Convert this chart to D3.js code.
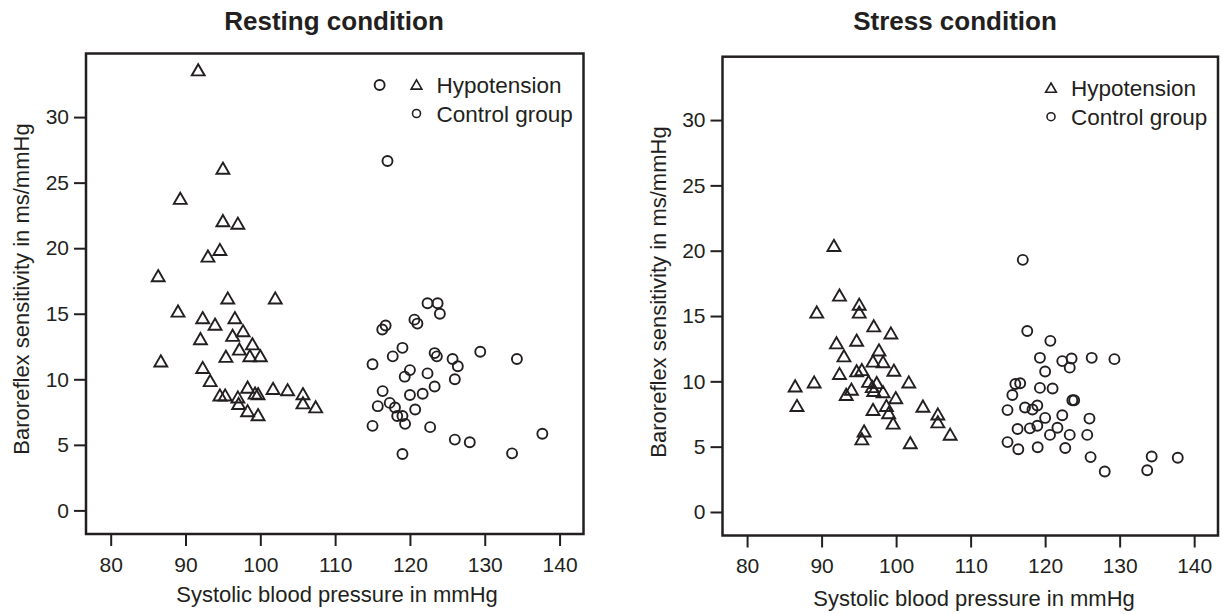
<!doctype html>
<html>
<head>
<meta charset="utf-8">
<script src="https://cdnjs.cloudflare.com/ajax/libs/d3/7.8.5/d3.min.js"></script>
<style>
  body { margin: 0; background: #fff; }
  svg { display: block; font-family: "Liberation Sans", Arial, Helvetica, sans-serif; }
</style>
</head>
<body>
<svg id="chart" width="1222" height="614"></svg>
<script>
// values: [systolic BP (mmHg), baroreflex sensitivity (ms/mmHg)]
var restHypo = [
  [91.7, 33.6], [95.0, 26.1], [89.3, 23.8], [95.0, 22.1], [97.0, 21.9],
  [94.6, 19.9], [93.0, 19.4], [86.35, 17.9], [95.65, 16.2], [102.0, 16.2],
  [89.0, 15.2], [92.3, 14.7], [96.6, 14.7], [93.95, 14.2], [97.7, 13.7],
  [96.3, 13.35], [92.0, 13.1], [98.95, 12.7], [97.2, 12.3], [95.4, 11.75],
  [98.6, 11.8], [100.0, 11.8], [86.7, 11.4], [92.3, 10.9], [93.3, 9.9],
  [94.6, 8.8], [95.3, 8.8], [97.0, 8.65], [97.1, 8.15], [98.3, 9.4],
  [99.3, 8.95], [99.7, 8.9], [101.7, 9.3], [103.65, 9.2], [105.7, 8.9],
  [105.7, 8.2], [107.4, 7.9], [98.3, 7.6], [99.7, 7.3]
];
var restCtrl = [
  [115.95, 32.45], [117.0, 26.65],
  [122.35, 15.8], [123.7, 15.8], [124.0, 15.0], [116.75, 14.1], [116.3, 13.8],
  [120.6, 14.55], [121.0, 14.25], [119.0, 12.4], [117.7, 11.75], [115.0, 11.15],
  [123.3, 12.0], [123.6, 11.75], [125.7, 11.55], [126.4, 11.0], [129.4, 12.1],
  [134.3, 11.55], [120.0, 10.7], [119.3, 10.2], [122.35, 10.45], [126.0, 10.0],
  [123.3, 9.45], [116.35, 9.1], [120.0, 8.8], [121.7, 8.9], [115.7, 7.95],
  [117.3, 8.2], [118.0, 7.85], [120.7, 7.7], [118.3, 7.2], [119.0, 7.2],
  [119.35, 6.6], [115.0, 6.45], [122.7, 6.35], [126.0, 5.4], [128.0, 5.2],
  [137.7, 5.85], [119.0, 4.3], [133.65, 4.35]
];
var stressHypo = [
  [91.65, 20.4], [92.4, 16.6], [95.05, 15.9], [95.05, 15.3], [89.35, 15.3],
  [97.0, 14.25], [99.3, 13.7], [92.0, 12.95], [94.7, 13.15], [93.0, 11.95],
  [97.7, 12.4], [96.9, 11.55], [98.25, 11.5], [99.7, 10.85], [92.4, 10.6],
  [94.7, 10.8], [95.4, 10.9], [96.3, 10.0], [96.8, 9.6], [97.4, 9.9],
  [97.0, 9.3], [98.25, 9.2], [101.7, 9.95], [86.45, 9.65], [89.0, 9.95],
  [93.3, 9.0], [94.0, 9.4], [99.95, 8.75], [86.7, 8.15], [96.9, 7.85],
  [98.7, 8.15], [99.0, 7.6], [99.6, 6.8], [103.6, 8.1], [105.6, 7.5],
  [105.6, 6.9], [107.25, 5.95], [95.7, 6.2], [95.4, 5.6], [101.9, 5.3]
];
var stressCtrl = [
  [117.0, 19.3], [117.6, 13.85], [120.7, 13.1], [119.3, 11.8], [122.3, 11.55],
  [123.55, 11.75], [123.3, 11.05], [126.25, 11.8], [129.3, 11.7], [120.0, 10.75],
  [116.0, 9.8], [116.65, 9.85], [119.3, 9.5], [121.0, 9.45], [115.6, 8.95],
  [123.65, 8.55], [123.9, 8.55], [117.3, 8.0], [118.3, 7.85], [118.95, 8.15],
  [114.95, 7.8], [120.0, 7.2], [122.3, 7.4], [125.95, 7.15], [116.3, 6.35],
  [117.95, 6.4], [118.95, 6.6], [121.65, 6.45], [120.65, 5.9], [123.3, 5.9],
  [125.65, 5.9], [114.95, 5.35], [116.4, 4.8], [119.0, 4.95], [122.7, 4.9],
  [126.1, 4.2], [128.0, 3.1], [133.7, 3.2], [134.3, 4.25], [137.8, 4.15]
];
var xTicks = [80, 90, 100, 110, 120, 130, 140];
var yTicks = [0, 5, 10, 15, 20, 25, 30];
var titles = ["Resting condition", "Stress condition"];
var legendLabels = ["Hypotension", "Control group"];
var xLabel = "Systolic blood pressure in mmHg";
var yLabel = "Baroreflex sensitivity in ms/mmHg";

var ink = "#231f20";
var svg = d3.select("#chart");

var panels = [
  { title: titles[0], hypo: restHypo, ctrl: restCtrl,
    left: 86, right: 583.5, top: 53.5, bottom: 534,
    titleX: 334, xLabX: 337, xLabY: 602, yLabX: 29, yLabY: 289 },
  { title: titles[1], hypo: stressHypo, ctrl: stressCtrl,
    left: 722.5, right: 1218, top: 56.7, bottom: 535.5,
    titleX: 955, xLabX: 974, xLabY: 606, yLabX: 666, yLabY: 292 }
];

var triangle = d3.symbol().type(d3.symbolTriangle).size(72);

panels.forEach(function(p) {
  var x = d3.scaleLinear().domain([76.7, 143.2]).range([p.left, p.right]);
  var y = d3.scaleLinear().domain([-1.8, 34.85]).range([p.bottom, p.top]);
  var g = svg.append("g");

  // title
  g.append("text").attr("x", p.titleX).attr("y", 30)
    .attr("text-anchor", "middle").attr("font-size", 26).attr("font-weight", "bold")
    .attr("fill", ink).text(p.title);

  // axes
  var xa = g.append("g").attr("transform", "translate(0," + p.bottom + ")")
    .call(d3.axisBottom(x).tickValues(xTicks).tickSize(12).tickPadding(11));
  var ya = g.append("g").attr("transform", "translate(" + p.left + ",0)")
    .call(d3.axisLeft(y).tickValues(yTicks).tickSize(12).tickPadding(5));
  [xa, ya].forEach(function(a) {
    a.select(".domain").remove();
    a.selectAll("line").attr("stroke", ink).attr("stroke-width", 2);
    a.selectAll("text").attr("font-size", 21).attr("fill", ink)
      .attr("font-family", "Liberation Sans, Arial, sans-serif");
  });

  // frame
  g.append("rect").attr("x", p.left).attr("y", p.top)
    .attr("width", p.right - p.left).attr("height", p.bottom - p.top)
    .attr("fill", "none").attr("stroke", ink).attr("stroke-width", 2.5);

  // axis titles
  g.append("text").attr("x", p.xLabX).attr("y", p.xLabY)
    .attr("text-anchor", "middle").attr("font-size", 22).attr("fill", ink).text(xLabel);
  g.append("text")
    .attr("transform", "translate(" + p.yLabX + "," + p.yLabY + ") rotate(-90)")
    .attr("text-anchor", "middle").attr("font-size", 22).attr("fill", ink).text(yLabel);

  // points
  g.selectAll("circle.ctrl").data(p.ctrl).enter().append("circle")
    .attr("class", "ctrl")
    .attr("cx", function(d) { return x(d[0]); })
    .attr("cy", function(d) { return y(d[1]); })
    .attr("r", 5).attr("fill", "none").attr("stroke", ink).attr("stroke-width", 1.9);

  g.selectAll("path.hypo").data(p.hypo).enter().append("path")
    .attr("class", "hypo")
    .attr("d", triangle)
    .attr("transform", function(d) { return "translate(" + x(d[0]) + "," + (y(d[1]) + 1.8) + ")"; })
    .attr("fill", "none").attr("stroke", ink).attr("stroke-width", 1.9);

  // legend
  var lx = p.right - 167, tx = p.right - 147;
  var ly1 = p.top + 31, ly2 = p.top + 60;
  g.append("path").attr("d", d3.symbol().type(d3.symbolTriangle).size(50))
    .attr("transform", "translate(" + lx + "," + (ly1 + 1.5) + ")")
    .attr("fill", "none").attr("stroke", ink).attr("stroke-width", 1.6);
  g.append("circle").attr("cx", lx).attr("cy", ly2).attr("r", 4)
    .attr("fill", "none").attr("stroke", ink).attr("stroke-width", 1.6);
  g.append("text").attr("x", tx).attr("y", ly1 + 8).attr("font-size", 22.5)
    .attr("fill", ink).text(legendLabels[0]);
  g.append("text").attr("x", tx).attr("y", ly2 + 8).attr("font-size", 22.5)
    .attr("fill", ink).text(legendLabels[1]);
});
</script>
</body>
</html>
